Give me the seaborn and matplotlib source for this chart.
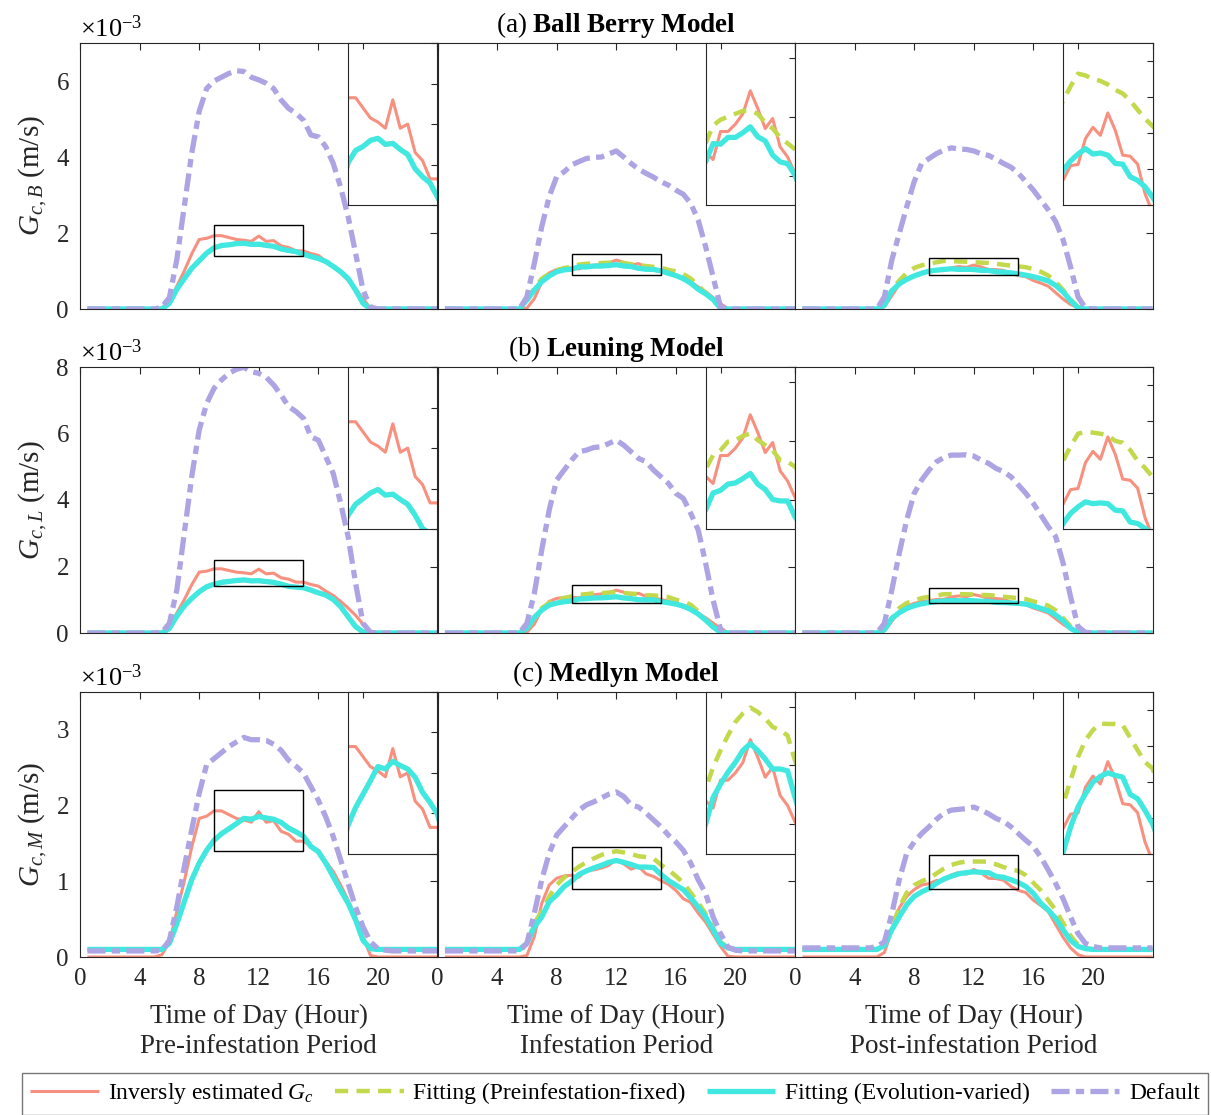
import numpy as np
import matplotlib
matplotlib.use("Agg")
import matplotlib.pyplot as plt
from matplotlib.patches import Rectangle
from matplotlib.ticker import MultipleLocator
import seaborn as sns

sns.set_style("white")
plt.rcParams.update({
    "font.family": ["Liberation Serif", "DejaVu Serif"],
    "mathtext.fontset": "custom",
    "mathtext.rm": "Liberation Serif",
    "mathtext.it": "Liberation Serif:italic",
    "mathtext.bf": "Liberation Serif:bold",
    "lines.scale_dashes": False,
    "axes.edgecolor": "#262626",
    "axes.linewidth": 0.8,
    "xtick.color": "#262626",
    "ytick.color": "#262626",
    "text.color": "black",
})

# ---------------------------------------------------------------- data (x 1e-3 m/s)
t_hour = np.arange(0.5, 24.01, 0.5)

# inversely estimated canopy conductance, one per period (shared by all models)
gc_inv_pre = [0, 0, 0, 0, 0, 0, 0, 0, 0, 0, 0.03,
              0.20, 0.60, 1.00, 1.45, 1.83, 1.86,
              1.93, 1.93, 1.88, 1.83, 1.81, 1.78, 1.92, 1.78, 1.80, 1.66, 1.62, 1.53, 1.53,
              1.46, 1.41, 1.26, 1.13, 0.95, 0.75, 0.53, 0.27, 0.02,
              0, 0, 0, 0, 0, 0, 0, 0, 0]
gc_inv_inf = [0, 0, 0, 0, 0, 0, 0, 0, 0, 0, 0,
              0.02, 0.27, 0.71, 0.95, 1.04, 1.07,
              1.08, 1.055, 1.15, 1.15, 1.175, 1.21, 1.288, 1.228, 1.16, 1.194, 1.098, 1.064, 1.008,
              0.96, 0.88, 0.77, 0.72, 0.58, 0.46, 0.30, 0.14, 0.01,
              0, 0, 0, 0, 0, 0, 0, 0, 0]
gc_inv_post = [0, 0, 0, 0, 0, 0, 0, 0, 0, 0, 0,
               0.06, 0.35, 0.65, 0.80, 0.89, 0.95,
               0.97, 1.01, 1.013, 1.085, 1.116, 1.094, 1.156, 1.108, 1.039, 1.036, 1.014, 0.932, 0.88,
               0.85, 0.75, 0.68, 0.60, 0.43, 0.26, 0.12, 0.03, 0,
               0, 0, 0, 0, 0, 0, 0, 0, 0]

# Ball Berry model
bb_fix_pre = [0, 0, 0, 0, 0, 0, 0, 0, 0, 0, 0,
              0.15, 0.52, 0.80, 1.07, 1.27, 1.47,
              1.61, 1.67, 1.69, 1.72, 1.73, 1.70, 1.705, 1.675, 1.65, 1.58, 1.54, 1.51, 1.44,
              1.38, 1.33, 1.25, 1.12, 0.98, 0.80, 0.50, 0.15, 0,
              0, 0, 0, 0, 0, 0, 0, 0, 0]
bb_evo_pre = [0, 0, 0, 0, 0, 0, 0, 0, 0, 0, 0,
              0.15, 0.52, 0.80, 1.07, 1.27, 1.47,
              1.61, 1.67, 1.69, 1.72, 1.73, 1.70, 1.705, 1.675, 1.65, 1.58, 1.54, 1.51, 1.44,
              1.38, 1.33, 1.25, 1.12, 0.98, 0.80, 0.50, 0.15, 0,
              0, 0, 0, 0, 0, 0, 0, 0, 0]
bb_def_pre = [0, 0, 0, 0, 0, 0, 0, 0, 0, 0, 0.05,
              0.30, 1.30, 2.70, 4.10, 5.20, 5.80,
              6.00, 6.10, 6.20, 6.27, 6.25, 6.10, 6.03, 5.94, 5.80, 5.50, 5.28, 5.15, 4.97,
              4.58, 4.53, 4.27, 3.83, 3.20, 2.43, 1.47, 0.50, 0.05,
              0, 0, 0, 0, 0, 0, 0, 0, 0]
bb_fix_inf = [0, 0, 0, 0, 0, 0, 0, 0, 0, 0, 0,
              0.20, 0.55, 0.80, 0.93, 1.02, 1.08,
              1.11, 1.17, 1.19, 1.20, 1.21, 1.22, 1.22, 1.21, 1.18, 1.16, 1.13, 1.11, 1.09,
              1.03, 0.99, 0.92, 0.80, 0.62, 0.42, 0.22, 0.03, 0,
              0, 0, 0, 0, 0, 0, 0, 0, 0]
bb_evo_inf = [0, 0, 0, 0, 0, 0, 0, 0, 0, 0, 0,
              0.24, 0.50, 0.72, 0.87, 0.98, 1.03,
              1.047, 1.109, 1.107, 1.13, 1.13, 1.146, 1.166, 1.132, 1.118, 1.07, 1.047, 1.041, 1.002,
              0.94, 0.88, 0.80, 0.68, 0.52, 0.40, 0.25, 0.02, 0,
              0, 0, 0, 0, 0, 0, 0, 0, 0]
bb_def_inf = [0, 0, 0, 0, 0, 0, 0, 0, 0, 0, 0,
              0.32, 1.20, 2.17, 2.96, 3.48, 3.61,
              3.79, 3.88, 3.96, 3.99, 4.00, 4.08, 4.16, 4.00, 3.83, 3.68, 3.57, 3.47, 3.35,
              3.26, 3.13, 3.02, 2.78, 2.34, 1.64, 0.85, 0.05, 0,
              0, 0, 0, 0, 0, 0, 0, 0, 0]
bb_fix_post = [0, 0, 0, 0, 0, 0, 0, 0, 0, 0, 0,
               0.10, 0.50, 0.75, 0.95, 1.08, 1.15,
               1.19, 1.23, 1.265, 1.26, 1.25, 1.245, 1.235, 1.22, 1.21, 1.19, 1.165, 1.14, 1.12,
               1.10, 1.05, 0.98, 0.88, 0.72, 0.50, 0.25, 0.05, 0,
               0, 0, 0, 0, 0, 0, 0, 0, 0]
bb_evo_post = [0, 0, 0, 0, 0, 0, 0, 0, 0, 0, 0,
               0.10, 0.48, 0.66, 0.78, 0.87, 0.94,
               0.997, 1.023, 1.042, 1.057, 1.042, 1.045, 1.039, 1.016, 1.014, 0.979, 0.969, 0.951, 0.923,
               0.89, 0.85, 0.80, 0.74, 0.62, 0.45, 0.22, 0.03, 0,
               0, 0, 0, 0, 0, 0, 0, 0, 0]
bb_def_post = [0, 0, 0, 0, 0, 0, 0, 0, 0, 0, 0,
               0.32, 1.29, 1.99, 2.69, 3.35, 3.83,
               3.96, 4.09, 4.18, 4.24, 4.21, 4.20, 4.16, 4.08, 4.04, 3.94, 3.83, 3.73, 3.57,
               3.35, 3.13, 2.87, 2.61, 2.30, 1.82, 1.11, 0.32, 0.02,
               0, 0, 0, 0, 0, 0, 0, 0, 0]

# Leuning model
le_fix_pre = [0, 0, 0, 0, 0, 0, 0, 0, 0, 0, 0,
              0.14, 0.51, 0.81, 1.04, 1.24, 1.39,
              1.469, 1.523, 1.551, 1.579, 1.596, 1.568, 1.573, 1.547, 1.523, 1.469, 1.403, 1.38, 1.36,
              1.29, 1.21, 1.14, 1.01, 0.79, 0.49, 0.19, 0.03, 0,
              0, 0, 0, 0, 0, 0, 0, 0, 0]
le_evo_pre = [0, 0, 0, 0, 0, 0, 0, 0, 0, 0, 0,
              0.14, 0.51, 0.81, 1.04, 1.24, 1.39,
              1.469, 1.523, 1.551, 1.579, 1.596, 1.568, 1.573, 1.547, 1.523, 1.469, 1.403, 1.38, 1.36,
              1.29, 1.21, 1.14, 1.01, 0.79, 0.49, 0.19, 0.03, 0,
              0, 0, 0, 0, 0, 0, 0, 0, 0]
le_def_pre = [0, 0, 0, 0, 0, 0, 0, 0, 0, 0, 0.02,
              0.29, 1.29, 3.00, 4.70, 6.10, 6.90,
              7.36, 7.61, 7.81, 7.93, 7.99, 7.86, 7.81, 7.69, 7.46, 7.16, 6.81, 6.66, 6.46,
              5.90, 5.80, 5.30, 4.80, 3.90, 2.90, 1.50, 0.29, 0.02,
              0, 0, 0, 0, 0, 0, 0, 0, 0]
le_fix_inf = [0, 0, 0, 0, 0, 0, 0, 0, 0, 0, 0,
              0.10, 0.45, 0.75, 0.90, 1.00, 1.05,
              1.103, 1.151, 1.168, 1.197, 1.202, 1.216, 1.225, 1.202, 1.185, 1.168, 1.134, 1.129, 1.112,
              1.08, 1.00, 0.95, 0.85, 0.65, 0.40, 0.18, 0.02, 0,
              0, 0, 0, 0, 0, 0, 0, 0, 0]
le_evo_inf = [0, 0, 0, 0, 0, 0, 0, 0, 0, 0, 0,
              0.14, 0.47, 0.69, 0.84, 0.90, 0.94,
              0.965, 1.023, 1.032, 1.053, 1.057, 1.072, 1.089, 1.053, 1.035, 1.001, 0.996, 0.996, 0.942,
              0.91, 0.87, 0.81, 0.71, 0.57, 0.39, 0.18, 0.02, 0,
              0, 0, 0, 0, 0, 0, 0, 0, 0]
le_def_inf = [0, 0, 0, 0, 0, 0, 0, 0, 0, 0, 0,
              0.29, 1.19, 2.50, 3.70, 4.60, 4.90,
              5.20, 5.45, 5.50, 5.58, 5.60, 5.70, 5.80, 5.65, 5.45, 5.25, 5.15, 4.90, 4.70,
              4.50, 4.20, 4.05, 3.60, 3.10, 2.10, 0.99, 0.11, 0,
              0, 0, 0, 0, 0, 0, 0, 0, 0]
le_fix_post = [0, 0, 0, 0, 0, 0, 0, 0, 0, 0, 0,
               0.10, 0.45, 0.75, 0.90, 0.98, 1.05,
               1.09, 1.13, 1.165, 1.17, 1.168, 1.165, 1.16, 1.145, 1.14, 1.12, 1.09, 1.07, 1.045,
               1.02, 0.95, 0.90, 0.82, 0.68, 0.45, 0.20, 0.03, 0,
               0, 0, 0, 0, 0, 0, 0, 0, 0]
le_evo_post = [0, 0, 0, 0, 0, 0, 0, 0, 0, 0, 0,
               0.10, 0.44, 0.61, 0.74, 0.82, 0.88,
               0.916, 0.944, 0.962, 0.976, 0.971, 0.973, 0.971, 0.953, 0.951, 0.92, 0.916, 0.902, 0.89,
               0.87, 0.81, 0.74, 0.67, 0.54, 0.37, 0.14, 0.02, 0,
               0, 0, 0, 0, 0, 0, 0, 0, 0]
le_def_post = [0, 0, 0, 0, 0, 0, 0, 0, 0, 0, 0,
               0.29, 1.29, 2.40, 3.40, 4.20, 4.60,
               4.90, 5.15, 5.28, 5.35, 5.35, 5.36, 5.32, 5.20, 5.10, 4.95, 4.85, 4.70, 4.45,
               4.20, 3.90, 3.55, 3.20, 2.90, 2.10, 1.09, 0.19, 0.02,
               0, 0, 0, 0, 0, 0, 0, 0, 0]

# Medlyn model
me_fix_pre = [0.1, 0.1, 0.1, 0.1, 0.1, 0.1, 0.1, 0.1, 0.1, 0.1, 0.1,
              0.18, 0.44, 0.73, 1.02, 1.24, 1.41,
              1.541, 1.628, 1.694, 1.761, 1.831, 1.819, 1.857, 1.836, 1.819, 1.778, 1.703, 1.653, 1.595,
              1.46, 1.39, 1.24, 1.06, 0.88, 0.71, 0.49, 0.22, 0.11,
              0.1, 0.1, 0.1, 0.1, 0.1, 0.1, 0.1, 0.1, 0.1]
me_evo_pre = [0.1, 0.1, 0.1, 0.1, 0.1, 0.1, 0.1, 0.1, 0.1, 0.1, 0.1,
              0.18, 0.44, 0.73, 1.02, 1.24, 1.41,
              1.541, 1.628, 1.694, 1.761, 1.831, 1.819, 1.857, 1.836, 1.819, 1.778, 1.703, 1.653, 1.595,
              1.46, 1.39, 1.24, 1.06, 0.88, 0.71, 0.49, 0.22, 0.11,
              0.1, 0.1, 0.1, 0.1, 0.1, 0.1, 0.1, 0.1, 0.1]
me_def_pre = [0.08, 0.08, 0.08, 0.08, 0.08, 0.08, 0.08, 0.08, 0.08, 0.08, 0.09,
              0.22, 0.66, 1.19, 1.68, 2.16, 2.54,
              2.62, 2.70, 2.78, 2.84, 2.90, 2.87, 2.87, 2.86, 2.81, 2.73, 2.60, 2.52, 2.43,
              2.25, 2.07, 1.85, 1.59, 1.28, 0.97, 0.66, 0.40, 0.20,
              0.11, 0.09, 0.08, 0.08, 0.08, 0.08, 0.08, 0.08, 0.08]
me_fix_inf = [0.1, 0.1, 0.1, 0.1, 0.1, 0.1, 0.1, 0.1, 0.1, 0.1, 0.1,
              0.18, 0.45, 0.60, 0.80, 0.95, 1.05,
              1.12, 1.194, 1.251, 1.302, 1.348, 1.377, 1.397, 1.382, 1.36, 1.331, 1.32, 1.302, 1.217,
              1.15, 1.07, 0.98, 0.85, 0.72, 0.57, 0.38, 0.20, 0.12,
              0.1, 0.1, 0.1, 0.1, 0.1, 0.1, 0.1, 0.1, 0.1]
me_evo_inf = [0.1, 0.1, 0.1, 0.1, 0.1, 0.1, 0.1, 0.1, 0.1, 0.1, 0.1,
              0.18, 0.40, 0.53, 0.73, 0.82, 0.93,
              1.00, 1.091, 1.137, 1.177, 1.211, 1.251, 1.274, 1.251, 1.222, 1.188, 1.188, 1.182, 1.091,
              1.01, 0.95, 0.89, 0.78, 0.66, 0.53, 0.36, 0.18, 0.12,
              0.1, 0.1, 0.1, 0.1, 0.1, 0.1, 0.1, 0.1, 0.1]
me_def_inf = [0.08, 0.08, 0.08, 0.08, 0.08, 0.08, 0.08, 0.08, 0.08, 0.08, 0.08,
              0.18, 0.58, 1.02, 1.37, 1.61, 1.72,
              1.83, 1.94, 2.01, 2.05, 2.10, 2.15, 2.18, 2.12, 2.01, 1.98, 1.90, 1.81, 1.72,
              1.61, 1.52, 1.41, 1.24, 1.02, 0.84, 0.53, 0.31, 0.13,
              0.09, 0.08, 0.08, 0.08, 0.08, 0.08, 0.08, 0.08, 0.08]
me_fix_post = [0.1, 0.1, 0.1, 0.1, 0.1, 0.1, 0.1, 0.1, 0.1, 0.1, 0.1,
               0.15, 0.40, 0.65, 0.85, 0.95, 1.00,
               1.039, 1.104, 1.169, 1.216, 1.244, 1.262, 1.261, 1.261, 1.258, 1.223, 1.188, 1.155, 1.137,
               1.08, 0.98, 0.88, 0.75, 0.62, 0.45, 0.28, 0.16, 0.12,
               0.1, 0.1, 0.1, 0.1, 0.1, 0.1, 0.1, 0.1, 0.1]
me_evo_post = [0.1, 0.1, 0.1, 0.1, 0.1, 0.1, 0.1, 0.1, 0.1, 0.1, 0.1,
               0.15, 0.36, 0.53, 0.69, 0.80, 0.86,
               0.904, 0.974, 1.03, 1.067, 1.099, 1.115, 1.125, 1.118, 1.113, 1.065, 1.053, 1.02, 0.983,
               0.93, 0.84, 0.71, 0.62, 0.51, 0.36, 0.22, 0.14, 0.11,
               0.1, 0.1, 0.1, 0.1, 0.1, 0.1, 0.1, 0.1, 0.1]
me_def_post = [0.12, 0.12, 0.12, 0.12, 0.12, 0.12, 0.12, 0.12, 0.12, 0.12, 0.14,
               0.20, 0.57, 1.02, 1.37, 1.52, 1.63,
               1.72, 1.82, 1.90, 1.94, 1.95, 1.96, 1.98, 1.94, 1.89, 1.83, 1.79, 1.72, 1.63,
               1.54, 1.46, 1.32, 1.15, 0.97, 0.77, 0.53, 0.31, 0.18,
               0.14, 0.12, 0.12, 0.12, 0.12, 0.12, 0.12, 0.12, 0.12]

period_names = ["Pre-infestation Period", "Infestation Period", "Post-infestation Period"]
model_tags = ["(a)", "(b)", "(c)"]
model_names = ["Ball Berry Model", "Leuning Model", "Medlyn Model"]
model_subs = ["B", "L", "M"]
model_ymax = [7, 8, 3.5]
model_yticks = [[0, 2, 4, 6], [0, 2, 4, 6, 8], [0, 1, 2, 3]]
hour_ticks = [0, 4, 8, 12, 16, 20]

gc_inv = [gc_inv_pre, gc_inv_inf, gc_inv_post]
gc_fix = [[bb_fix_pre, bb_fix_inf, bb_fix_post],
          [le_fix_pre, le_fix_inf, le_fix_post],
          [me_fix_pre, me_fix_inf, me_fix_post]]
gc_evo = [[bb_evo_pre, bb_evo_inf, bb_evo_post],
          [le_evo_pre, le_evo_inf, le_evo_post],
          [me_evo_pre, me_evo_inf, me_evo_post]]
gc_def = [[bb_def_pre, bb_def_inf, bb_def_post],
          [le_def_pre, le_def_inf, le_def_post],
          [me_def_pre, me_def_inf, me_def_post]]

# zoom window (hours and conductance range) for each period
zoom_hours = (9, 15)
zoom_range = [(1.4, 2.2), (0.9, 1.45), (0.9, 1.35)]
zoom_step = [0.2, 0.2, 0.1]

series_labels = [r"Inversly estimated $G_c$", "Fitting (Preinfestation-fixed)",
                 "Fitting (Evolution-varied)", "Default"]
series_style = [
    dict(color="#F8907F", linewidth=2.2, linestyle="-"),
    dict(color="#C3D84A", linewidth=3.2, linestyle=(0, (9.5, 6.0))),
    dict(color="#40E8E0", linewidth=3.8, linestyle="-"),
    dict(color="#ADA4E4", linewidth=3.8, linestyle=(0, (13.0, 4.5, 6.0, 4.5))),
]

# ---------------------------------------------------------------- figure
W, H = 1211, 1115
fig = plt.figure(figsize=(W / 100, H / 100), dpi=100)

col_left = [80, 437.5, 795]
col_w = 357.5
row_top = [43, 367, 692]
row_h = [266, 266, 265]


def draw_series(ax, r, c, with_labels=False):
    data = [gc_inv[c], gc_fix[r][c], gc_evo[r][c], gc_def[r][c]]
    for vals, lab, sty in zip(data, series_labels, series_style):
        sns.lineplot(x=t_hour, y=np.asarray(vals, dtype=float), ax=ax, legend=False,
                     label=lab if with_labels else None,
                     solid_capstyle="butt", dash_capstyle="butt", **sty)


handles = None
for r in range(3):
    for c in range(3):
        ax = fig.add_axes([col_left[c] / W, 1 - (row_top[r] + row_h[r]) / H,
                           col_w / W, row_h[r] / H])
        draw_series(ax, r, c, with_labels=(r == 0 and c == 0))
        if r == 0 and c == 0:
            handles, labels = ax.get_legend_handles_labels()
        ax.set_xlim(0, 24)
        ax.set_ylim(0, model_ymax[r])
        ax.set_xticks(hour_ticks)
        ax.set_yticks(model_yticks[r])
        ax.tick_params(direction="in", top=True, right=True, length=5, width=0.8,
                       labelsize=18, pad=8,
                       labelleft=(c == 0), labelbottom=(r == 2))
        ax.set_xlabel("")
        ax.set_ylabel("")
        for sp in ax.spines.values():
            sp.set_visible(True)
            sp.set_linewidth(0.8)
            sp.set_color("#262626")

        lo, hi = zoom_range[c]
        ax.add_patch(Rectangle((zoom_hours[0], lo), zoom_hours[1] - zoom_hours[0], hi - lo,
                               fill=False, edgecolor="black", linewidth=1.0, zorder=6))

        ins = ax.inset_axes([0.75, 0.39, 0.25, 0.61])
        draw_series(ins, r, c)
        ins.set_xlim(*zoom_hours)
        ins.set_ylim(lo, hi)
        ins.set_xticks([10, 15])
        ins.yaxis.set_major_locator(MultipleLocator(zoom_step[c]))
        ins.tick_params(direction="in", top=True, right=True, length=4, width=0.8,
                        labelleft=False, labelbottom=False)
        ins.set_xlabel("")
        ins.set_ylabel("")
        for sp in ins.spines.values():
            sp.set_visible(True)
            sp.set_linewidth(0.8)
            sp.set_color("#262626")

        if c == 0:
            ax.set_ylabel(r"$G_{c,%s}$ (m/s)" % model_subs[r], fontsize=21, labelpad=5)
            ax.text(0.0, 1.005, r"$\times$10$^{\mathregular{-3}}$", transform=ax.transAxes,
                    ha="left", va="bottom", fontsize=19)
        if c == 1:
            ax.text(0.5, 1.01, r"%s $\mathbf{%s}$" % (model_tags[r], model_names[r].replace(" ", r"\ ")),
                    transform=ax.transAxes, ha="center", va="bottom", fontsize=19.5)
        if r == 2:
            ax.set_xlabel("Time of Day (Hour)\n" + period_names[c], fontsize=19.5,
                          linespacing=1.25, labelpad=10)

leg = fig.legend(handles, labels, loc="upper left", bbox_to_anchor=(22 / W, 1 - 1073 / H),
                 ncol=4, frameon=True, fancybox=False, edgecolor="#555555", fontsize=17,
                 handlelength=2.9, handletextpad=0.4, columnspacing=0.9, borderpad=0.35,
                 borderaxespad=0)
leg.get_frame().set_linewidth(1.0)

fig.savefig("out.png", dpi=100)
